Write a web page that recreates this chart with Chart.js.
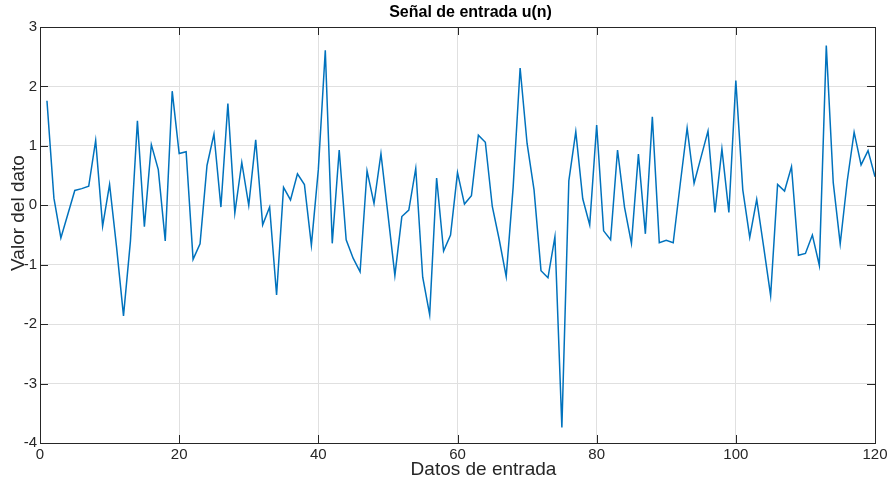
<!DOCTYPE html>
<html>
<head>
<meta charset="utf-8">
<script src="https://cdn.jsdelivr.net/npm/chart.js@4/dist/chart.umd.min.js"></script>
<style>
  html, body { margin: 0; padding: 0; background: #ffffff; }
  #grafica { display: block; }
</style>
</head>
<body>
<canvas id="grafica" width="896" height="483"></canvas>
<script>
// Valores de la señal u(n) (n = 1..120)
const valores = [
  1.76, 0.12, -0.55, -0.15, 0.25, 0.28, 0.32, 1.09, -0.35, 0.35,
  -0.70, -1.86, -0.60, 1.42, -0.36, 1.02, 0.60, -0.60, 1.92, 0.87,
  0.90, -0.91, -0.65, 0.67, 1.20, -0.03, 1.71, -0.13, 0.72, 0.00,
  1.10, -0.33, -0.03, -1.51, 0.30, 0.09, 0.53, 0.35, -0.67, 0.60,
  2.61, -0.64, 0.93, -0.58, -0.89, -1.12, 0.58, 0.03, 0.87, -0.15,
  -1.18, -0.19, -0.08, 0.62, -1.21, -1.84, 0.46, -0.77, -0.50, 0.55,
  0.02, 0.16, 1.18, 1.06, -0.02, -0.58, -1.20, 0.31, 2.31, 1.04,
  0.26, -1.10, -1.22, -0.53, -3.74, 0.41, 1.24, 0.11, -0.33, 1.35,
  -0.43, -0.58, 0.93, -0.03, -0.64, 0.86, -0.48, 1.49, -0.63, -0.59,
  -0.63, 0.35, 1.30, 0.37, 0.81, 1.25, -0.12, 0.95, -0.12, 2.10,
  0.26, -0.54, 0.10, -0.70, -1.52, 0.35, 0.24, 0.65, -0.84, -0.81,
  -0.50, -1.01, 2.69, 0.38, -0.65, 0.40, 1.23, 0.68, 0.92, 0.48
];
// Índice de cada muestra
const muestras = valores.map((_, i) => i + 1);

// Límites y marcas de los ejes
const ejeX = { min: 0, max: 120, paso: 20 };
const ejeY = { min: -4, max: 3, paso: 1 };

// Textos
const titulo = 'Señal de entrada u(n)';
const etiquetaX = 'Datos de entrada';
const etiquetaY = 'Valor del dato';

const colorTexto = '#262626';
const colorRejilla = '#e0e0e0';
const fuente = 'Liberation Sans, Arial, sans-serif';

// Marco completo y marcas hacia dentro (estilo MATLAB)
const marcoEjes = {
  id: 'marcoEjes',
  afterDatasetsDraw(chart) {
    const { ctx, chartArea: a, scales: { x, y } } = chart;
    ctx.save();
    ctx.strokeStyle = colorTexto;
    ctx.lineWidth = 1;
    ctx.beginPath();
    for (let v = ejeX.min; v <= ejeX.max; v += ejeX.paso) {
      const px = Math.round(x.getPixelForValue(v)) + 0.5;
      ctx.moveTo(px, a.bottom); ctx.lineTo(px, a.bottom - 8);
      ctx.moveTo(px, a.top); ctx.lineTo(px, a.top + 8);
    }
    for (let v = ejeY.min; v <= ejeY.max; v += ejeY.paso) {
      const py = Math.round(y.getPixelForValue(v)) + 0.5;
      ctx.moveTo(a.left, py); ctx.lineTo(a.left + 8, py);
      ctx.moveTo(a.right, py); ctx.lineTo(a.right - 8, py);
    }
    ctx.stroke();
    ctx.strokeRect(Math.round(a.left) + 0.5, Math.round(a.top) + 0.5,
      Math.round(a.right - a.left), Math.round(a.bottom - a.top));
    ctx.restore();
  }
};

// Título y rótulos de los ejes, colocados como en la figura original
const rotulos = {
  id: 'rotulos',
  afterDraw(chart) {
    const { ctx, chartArea: a } = chart;
    const cx = (a.left + a.right) / 2;
    ctx.save();
    ctx.textAlign = 'center';
    ctx.textBaseline = 'middle';
    ctx.fillStyle = '#000000';
    ctx.font = 'bold 16px ' + fuente;
    ctx.fillText(titulo, cx + 13, 13);
    ctx.fillStyle = colorTexto;
    ctx.font = '19px ' + fuente;
    ctx.fillText(etiquetaX, cx + 26, 470);
    ctx.translate(19, (a.top + a.bottom) / 2 - 22);
    ctx.rotate(-Math.PI / 2);
    ctx.fillText(etiquetaY, 0, 0);
    ctx.restore();
  }
};

new Chart(document.getElementById('grafica').getContext('2d'), {
  type: 'line',
  data: {
    labels: muestras,
    datasets: [{
      label: 'u(n)',
      data: muestras.map((n, i) => ({ x: n, y: valores[i] })),
      borderColor: '#0072BD',
      borderWidth: 1.5,
      pointRadius: 0,
      tension: 0,
      fill: false
    }]
  },
  options: {
    responsive: false,
    animation: false,
    layout: { padding: { left: 0, right: 21, top: 27, bottom: 0 } },
    plugins: {
      legend: { display: false },
      tooltip: { enabled: false },
      title: { display: false }
    },
    scales: {
      x: {
        type: 'linear',
        min: ejeX.min,
        max: ejeX.max,
        afterFit(scale) { scale.height = 40; },
        ticks: {
          stepSize: ejeX.paso,
          color: colorTexto,
          padding: 3,
          maxRotation: 0,
          font: { family: fuente, size: 15 }
        },
        grid: { color: colorRejilla, drawTicks: false },
        border: { display: false }
      },
      y: {
        min: ejeY.min,
        max: ejeY.max,
        afterFit(scale) { scale.width = 40; },
        ticks: {
          stepSize: ejeY.paso,
          color: colorTexto,
          padding: 3,
          font: { family: fuente, size: 15 }
        },
        grid: { color: colorRejilla, drawTicks: false },
        border: { display: false }
      }
    }
  },
  plugins: [marcoEjes, rotulos]
});
</script>
</body>
</html>
